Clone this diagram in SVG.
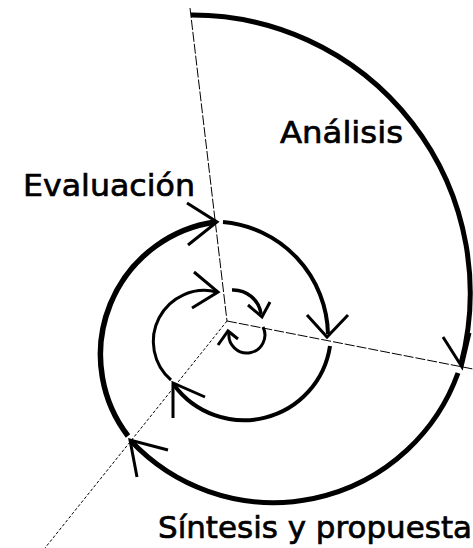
<svg xmlns="http://www.w3.org/2000/svg" width="473" height="548" viewBox="0 0 473 548">
<style>
.ray{fill:none;stroke:#000;stroke-width:1}
.arc{fill:none;stroke:#000;stroke-linecap:butt}
.head{fill:none;stroke:#000;stroke-width:3;stroke-linecap:butt;stroke-linejoin:miter}
.lbl{font-family:"DejaVu Sans","Liberation Sans",sans-serif;font-size:31px;fill:#000;stroke:#000;stroke-width:0.7}
</style>
<rect width="473" height="548" fill="#fff"/>
<g id="connectors">
<line class="ray" x1="190" y1="8" x2="227" y2="321" stroke-dasharray="10 2"/>
<line class="ray" x1="227" y1="321" x2="473" y2="369" stroke-dasharray="10 2"/>
<line class="ray" x1="227" y1="321" x2="45" y2="548" stroke-dasharray="3 2"/>
<path class="arc" stroke-width="5" d="M191,15 A278,278 0 0 1 461,364"/>
<path class="arc" stroke-width="5" d="M458,373 A196,196 0 0 1 131,441"/>
<path class="arc" stroke-width="5.5" d="M128,436 A134,134 0 0 1 215,222"/>
<path class="arc" stroke-width="4" d="M223,222 A115,115 0 0 1 328,334"/>
<path class="arc" stroke-width="4" d="M330,346 A87,87 0 0 1 174,385"/>
<path class="arc" stroke-width="3" d="M171,380 A51,51 0 0 1 217,292"/>
<path class="arc" stroke-width="3.5" d="M232,290 A28,28 0 0 1 261,314"/>
<path class="arc" stroke-width="3" d="M263,327 A18,18 0 1 1 229,333"/>
</g>
<g id="arrowheads">
<polyline class="head" points="187,203 217,222 188,245"/>
<polyline class="head" points="443,337 462,367 470,333"/>
<polyline class="head" points="307,315 327,337 348,315"/>
<polyline class="head" points="173,418 173,383 205,397"/>
<polyline class="head" points="137,477 130,440 168,450"/>
<polyline class="head" points="194,272 218,292 192,308"/>
<polyline class="head" points="248,305 262,317 270,302"/>
<polyline class="head" points="218,345 228,331 238,339"/>
</g>
<g id="node-analisis"><text class="lbl" x="280" y="143" textLength="123" lengthAdjust="spacingAndGlyphs">Análisis</text></g>
<g id="node-evaluacion"><text class="lbl" x="23" y="196" textLength="172" lengthAdjust="spacingAndGlyphs">Evaluación</text></g>
<g id="node-sintesis"><text class="lbl" x="158" y="538" textLength="314" lengthAdjust="spacingAndGlyphs">Síntesis y propuesta</text></g>
</svg>
